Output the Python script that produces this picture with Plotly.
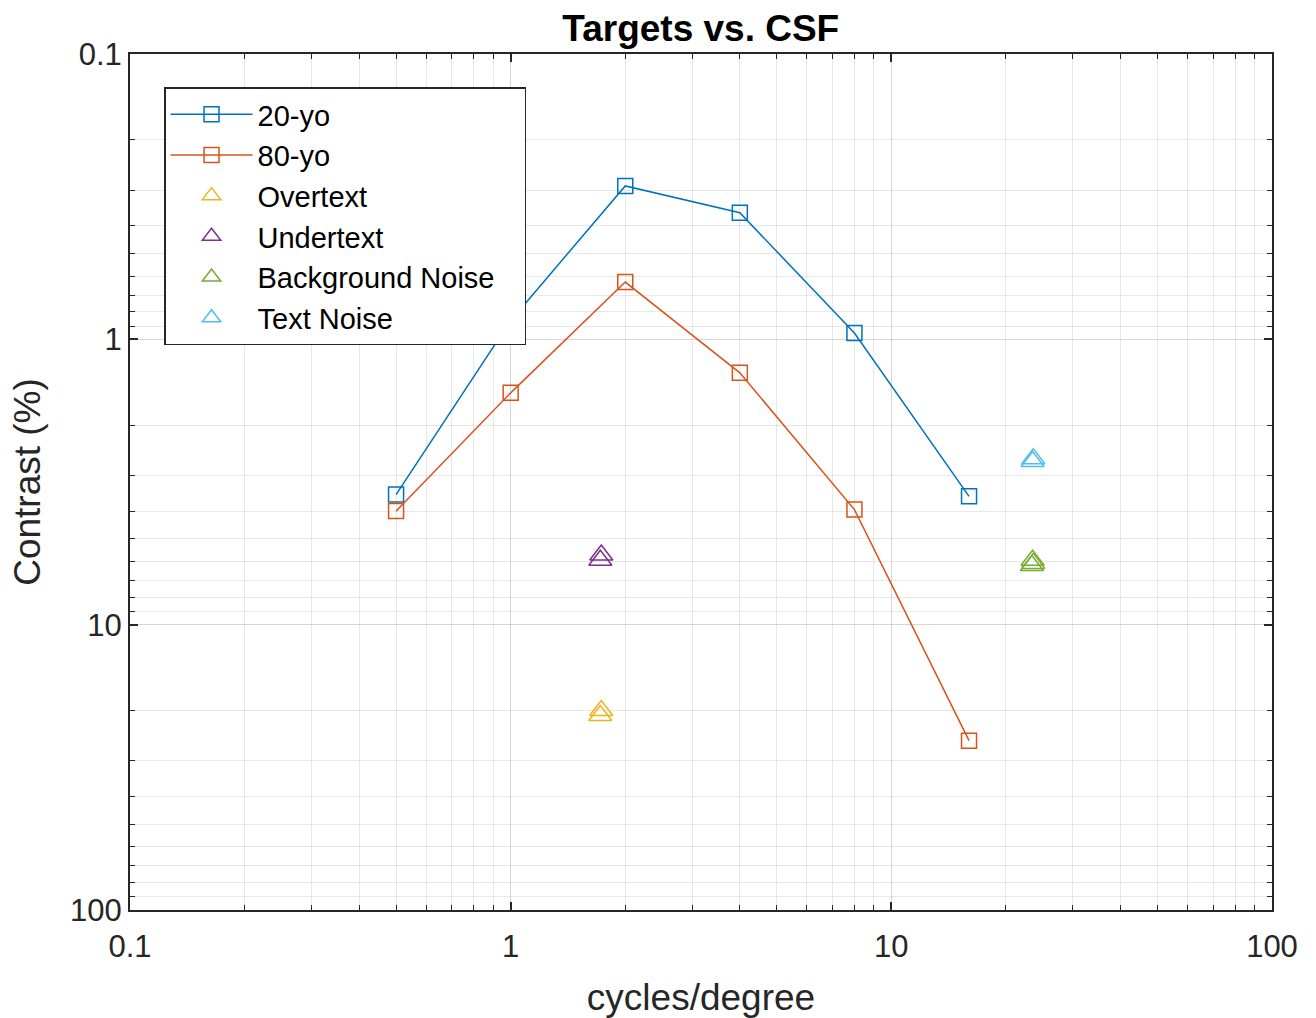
import plotly.graph_objects as go

freq = [0.5, 1, 2, 4, 8, 16]
young = [3.5, 0.86, 0.29, 0.36, 0.95, 3.55]
old = [4.0, 1.54, 0.63, 1.31, 3.95, 25.5]

overtext_x = [1.72, 1.73]
overtext_y = [20.8, 20.0]
undertext_x = [1.72, 1.73]
undertext_y = [5.95, 5.7]
bgnoise_x = [23.4, 23.5, 23.6]
bgnoise_y = [6.2, 5.95, 6.1]
textnoise_x = [23.5, 23.6]
textnoise_y = [2.68, 2.62]

major_vals = [0.1, 1, 10, 100]
major_text = ["0.1", "1", "10", "100"]
minor_vals = [k * 10 ** e for e in (-1, 0, 1) for k in range(2, 10)]

BLUE = "#0072BD"
ORANGE = "#D95319"
YELLOW = "#EDB120"
PURPLE = "#7E2F8E"
GREEN = "#77AC30"
CYAN = "#4DBEEE"

fig = go.Figure()
fig.add_trace(go.Scatter(x=freq, y=young, name="20-yo", mode="lines+markers",
                         line=dict(color=BLUE, width=1.5),
                         marker=dict(symbol="square-open", size=15, color=BLUE, line=dict(width=1.5))))
fig.add_trace(go.Scatter(x=freq, y=old, name="80-yo", mode="lines+markers",
                         line=dict(color=ORANGE, width=1.5),
                         marker=dict(symbol="square-open", size=15, color=ORANGE, line=dict(width=1.5))))
for nm, xs, ys, c in [("Overtext", overtext_x, overtext_y, YELLOW),
                      ("Undertext", undertext_x, undertext_y, PURPLE),
                      ("Background Noise\u00a0\u00a0\u00a0", bgnoise_x, bgnoise_y, GREEN),
                      ("Text Noise", textnoise_x, textnoise_y, CYAN)]:
    fig.add_trace(go.Scatter(x=xs, y=ys, name=nm, mode="markers",
                             marker=dict(symbol="triangle-up-open", size=20, color=c,
                                         line=dict(width=1.5))))

axis_common = dict(
    type="log", tickvals=major_vals, ticktext=major_text,
    showline=True, linecolor="#262626", linewidth=2, mirror="allticks",
    ticks="inside", ticklen=8, tickwidth=1.5, tickcolor="#262626",
    showgrid=True, gridcolor="rgba(0,0,0,0.16)", gridwidth=1,
    zeroline=False, automargin=False,
    tickfont=dict(family="Liberation Sans, Arial, sans-serif", size=31, color="#262626"),
    minor=dict(tickvals=minor_vals, ticks="inside", ticklen=5, tickwidth=1.2,
               tickcolor="#262626", showgrid=True, gridcolor="rgba(0,0,0,0.09)", gridwidth=1),
)

fig.update_layout(
    width=1316, height=1018,
    margin=dict(l=130, r=44, t=54, b=108),
    paper_bgcolor="white", plot_bgcolor="white",
    font=dict(family="Liberation Sans, Arial, sans-serif", color="#262626"),
    title=dict(text="<b>Targets vs. CSF</b>", x=0.5325, xanchor="center", y=0.972, yanchor="middle",
               font=dict(size=37, color="black")),
    xaxis=dict(axis_common, range=[-1, 2], ticklabelstandoff=8,
               title=dict(text="cycles/degree", font=dict(size=37, color="#262626"), standoff=22)),
    yaxis=dict(axis_common, range=[2, -1],
               title=dict(text="Contrast (%)", font=dict(size=37, color="#262626"), standoff=18)),
    legend=dict(x=0.0298, y=0.961, xanchor="left", yanchor="top",
                bgcolor="white", bordercolor="#262626", borderwidth=1.5,
                font=dict(size=29, color="black"), itemwidth=82,
                tracegroupgap=0),
    showlegend=True,
)

fig.write_html("out.html")
